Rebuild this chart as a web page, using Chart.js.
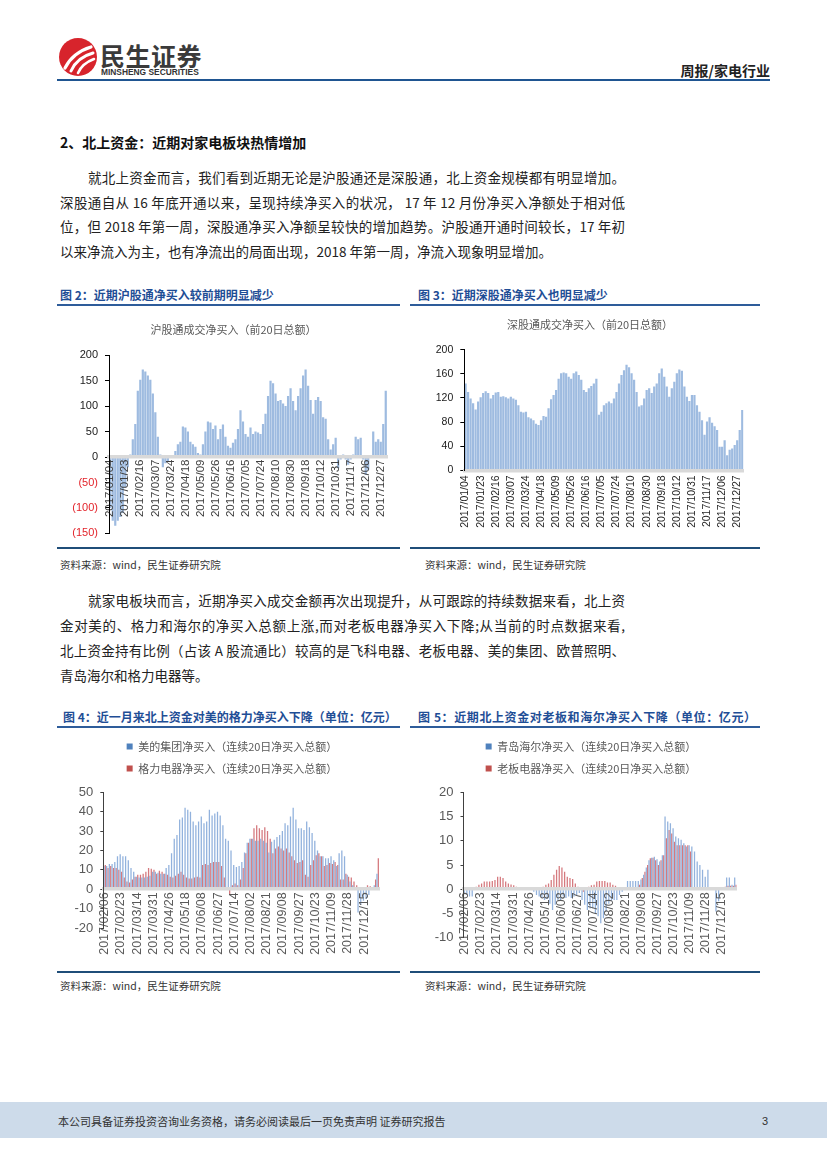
<!DOCTYPE html>
<html><head><meta charset="utf-8">
<script src="https://cdn.jsdelivr.net/npm/chart.js@4"></script>
<style>
body{margin:0;width:827px;height:1169px;position:relative;background:#fff;font-family:"Noto Sans CJK SC",sans-serif;overflow:hidden;color:#222}
.a{position:absolute;white-space:nowrap}
.ln{position:absolute;font-size:13.5px;height:20px;line-height:20px;color:#222;text-align:justify;text-align-last:justify;overflow:visible}
.nl{text-align:left;text-align-last:left;white-space:nowrap}
.ft{position:absolute;font-size:12px;font-weight:700;color:#1f4e96;height:16px;line-height:16px;white-space:nowrap}
.bar{position:absolute;background:#2e5c9a}
.src{position:absolute;font-size:10.5px;color:#333;height:14px;line-height:14px;white-space:nowrap}
.cv{position:absolute}
</style>
</head><body>

<!-- header -->
<svg class="a" style="left:58px;top:37px" width="40" height="40" viewBox="0 0 40 40">
  <circle cx="20" cy="20" r="19" fill="#d7242c"/>
  <path d="M7 31 C12 21 20 14 33 10" stroke="#fff" stroke-width="3.2" fill="none" stroke-linecap="round"/>
  <path d="M13 34 C17 25 24 19 35 16" stroke="#fff" stroke-width="3" fill="none" stroke-linecap="round"/>
  <path d="M20 36 C23 29 28 25 36 22" stroke="#fff" stroke-width="2.6" fill="none" stroke-linecap="round"/>
</svg>
<div class="a" style="left:100px;top:40px;font-size:25px;font-weight:700;color:#3a3a3a;line-height:30px;letter-spacing:0.5px">民生证券</div>
<div class="a" style="left:101px;top:67px;font-family:'Liberation Sans',sans-serif;font-size:8.4px;font-weight:700;color:#333;line-height:10px">MINSHENG SECURITIES</div>
<div class="a" style="right:57px;top:61px;font-size:14px;font-weight:700;color:#222;line-height:18px">周报/家电行业</div>
<div class="bar" style="left:57px;top:78.5px;width:713px;height:2.5px;background:#1f5591"></div>

<!-- section -->
<div class="a" style="left:60px;top:132px;font-size:14px;font-weight:700;color:#111;line-height:20px">2、北上资金：近期对家电板块热情增加</div>
<div class="ln" style="left:88px;top:167px;width:537px">就北上资金而言，我们看到近期无论是沪股通还是深股通，北上资金规模都有明显增加。</div>
<div class="ln" style="left:60px;top:191.5px;width:565px">深股通自从 16 年底开通以来，呈现持续净买入的状况， 17 年 12 月份净买入净额处于相对低</div>
<div class="ln" style="left:60px;top:216px;width:565px">位，但 2018 年第一周，深股通净买入净额呈较快的增加趋势。沪股通开通时间较长，17 年初</div>
<div class="ln nl" style="left:60px;top:241px">以来净流入为主，也有净流出的局面出现，2018 年第一周，净流入现象明显增加。</div>

<!-- figure 2/3 titles -->
<div class="ft" style="left:60px;top:287px">图 2：近期沪股通净买入较前期明显减少</div>
<div class="bar" style="left:57px;top:304px;width:343px;height:2px"></div>
<div class="ft" style="left:418px;top:287px">图 3：近期深股通净买入也明显减少</div>
<div class="bar" style="left:410px;top:304px;width:350px;height:2px"></div>

<div class="cv" style="left:57px;top:312px;width:353px;height:235px"><canvas id="c2"></canvas></div>
<div class="cv" style="left:410px;top:312px;width:360px;height:233px"><canvas id="c3"></canvas></div>

<div class="bar" style="left:57px;top:547px;width:343px;height:1.5px;background:#1f4e79"></div>
<div class="bar" style="left:410px;top:547px;width:350px;height:1.5px;background:#1f4e79"></div>
<div class="src" style="left:60px;top:558px">资料来源：wind，民生证券研究院</div>
<div class="src" style="left:425px;top:558px">资料来源：wind，民生证券研究院</div>

<!-- paragraph 2 -->
<div class="ln" style="left:88px;top:590px;width:537px">就家电板块而言，近期净买入成交金额再次出现提升，从可跟踪的持续数据来看，北上资</div>
<div class="ln" style="left:60px;top:615px;width:565px">金对美的、格力和海尔的净买入总额上涨,而对老板电器净买入下降;从当前的时点数据来看,</div>
<div class="ln" style="left:60px;top:640px;width:565px">北上资金持有比例（占该 A 股流通比）较高的是飞科电器、老板电器、美的集团、欧普照明、</div>
<div class="ln nl" style="left:60px;top:665px">青岛海尔和格力电器等。</div>

<!-- figure 4/5 titles -->
<div class="ft" style="left:63px;top:709px">图 4：近一月来北上资金对美的格力净买入下降（单位：亿元）</div>
<div class="bar" style="left:57px;top:726px;width:343px;height:2px"></div>
<div class="ft" style="left:418px;top:709px;letter-spacing:0.6px">图 5：近期北上资金对老板和海尔净买入下降（单位：亿元）</div>
<div class="bar" style="left:410px;top:726px;width:350px;height:2px"></div>

<div class="cv" style="left:57px;top:730px;width:350px;height:240px"><canvas id="c4"></canvas></div>
<div class="cv" style="left:410px;top:730px;width:362px;height:240px"><canvas id="c5"></canvas></div>

<div class="bar" style="left:57px;top:971px;width:343px;height:1.5px;background:#1f4e79"></div>
<div class="bar" style="left:410px;top:971px;width:350px;height:1.5px;background:#1f4e79"></div>
<div class="src" style="left:60px;top:979px">资料来源：wind，民生证券研究院</div>
<div class="src" style="left:425px;top:979px">资料来源：wind，民生证券研究院</div>

<!-- footer -->
<div class="a" style="left:0;top:1102px;width:827px;height:36px;background:#cddbea"></div>
<div class="a" style="left:58px;top:1112px;font-size:11px;color:#333;line-height:18px">本公司具备证券投资咨询业务资格，请务必阅读最后一页免责声明 证券研究报告</div>
<div class="a" style="left:762px;top:1112px;font-size:11px;color:#333;line-height:18px;font-family:'Liberation Sans',sans-serif">3</div>

<script>
// ---------- data ----------
const TICKS_CONNECT = ['2017/01/04','2017/01/23','2017/02/16','2017/03/07','2017/03/24','2017/04/18','2017/05/09','2017/05/26','2017/06/16','2017/07/05','2017/07/24','2017/08/10','2017/08/30','2017/09/18','2017/10/12','2017/10/31','2017/11/17','2017/12/06','2017/12/27'];
const TICKS_STOCKS = ['2017/02/06','2017/02/23','2017/03/14','2017/03/31','2017/04/26','2017/05/18','2017/06/08','2017/06/27','2017/07/14','2017/08/02','2017/08/21','2017/09/08','2017/09/27','2017/10/23','2017/11/09','2017/11/28','2017/12/15'];
const BARS_PER_TICK = 6;

const SH_NET = [-100,-125,-135,-125,-118,-110,-60,-20,5,35,65,130,152,172,168,160,152,125,88,40,5,-20,-12,-8,0,0,12,25,30,60,58,50,30,25,20,8,5,25,50,70,68,55,62,35,55,64,40,22,18,28,35,55,92,70,45,40,58,45,50,48,45,65,85,120,150,145,125,110,112,105,100,120,135,110,92,120,135,160,172,140,112,85,112,118,110,78,75,35,15,25,38,-22,-5,5,-5,-15,-5,5,40,35,38,-5,-35,-25,0,50,30,35,30,65,130];

const SZ_NET = [144,130,119,111,101,114,121,128,131,128,119,125,129,130,122,123,121,119,122,119,117,108,97,96,97,88,86,83,77,75,83,90,89,103,118,125,133,152,161,162,161,155,152,161,164,158,150,133,130,136,140,144,152,92,97,108,111,114,111,119,130,144,158,166,175,171,161,150,130,106,108,119,133,136,128,139,144,161,169,155,139,122,136,147,161,167,165,139,122,115,125,125,108,97,83,59,81,88,79,73,67,39,39,50,25,34,36,42,50,67,100];

const MIDEA = [12,12,13,13,14,17,18,17,17,15,11,9,6.5,6,6,6,6.5,7,9,9,8.5,8,8,11,12.5,18.5,26,28,36,37,42,41,40,35,33,35,37.5,34,35,41,38,39,40,38,33,26,25,20,12.5,11.5,12,14,19,24,26,26,25,25,26,25,24,19,24.5,25.5,27,28,30,34,33,37.5,42,36,31.5,31.5,30.5,35,32,29,25,20,17,17,16,16,17,15,12,18.5,20,17,7.5,4,2,0,-12,-8,-6,-5,-3,0,2,8];
const GREE = [12.5,11,12,11,11,10,9,6,4,3.5,5,6.5,7.5,7.5,8,9,11,10.5,10,8,9.5,9,8,7.5,6.5,6,7,8,9,7.5,6,5.5,5.5,6,6.5,6,12.5,13,12.5,13.5,14,14,14,12,6,0.5,-3,2,3,2,5,11,18.5,24,26,31.5,33,31.5,30.5,32,30,26,18.5,21,22,21,20,21,19,17,15,13.5,14,15,7.5,6.5,12.5,15,17.5,18.5,17,12,12.5,13.5,13,14,12.5,5,5,8,6.5,6,4,2,0,0,1,2,1.5,0,5,16];

const HAIER = [-1,-1.2,-1.5,-1.5,0,0,0,0,0,0,0,0,0,0,0,0,0,0,0,0,0,0,0,0,0,0,-0.5,-1.2,-1.5,-1.8,-2.2,-2,-3,-4.3,-3.2,-2.2,-2.2,-1.5,-1.8,-1.5,-1.8,-1.5,-1.2,-0.8,-2.2,-3.2,-4.3,-4,-3.9,-5,-5.6,-7,-6,-4.5,-3,-2.4,-2.2,-2.2,-1.2,-0.5,0,1.7,1.7,1.7,1.7,1.7,2,3,4.5,6,6.5,6.7,6.2,5.7,7,15,14,13.6,12.6,10.9,10.5,10.2,9.5,8.8,9.1,8.8,7.8,5.7,5,4,2.6,4,0.2,0,-4.6,-2.5,0,0,2.4,2.4,0.9,2.4];
const ROBAM = [0,0,0,0,0.5,0.9,1.2,1.6,1.6,1.6,1.7,1.9,2.6,2.6,2.3,1.6,1.2,1,0.8,0.5,0,0,0,0,0,0,0,0,0,0.5,0.9,1.2,1.9,3,4,4.8,4.5,3.6,2.6,2.3,2.1,1.2,0.5,0,-0.5,0,0.5,0.8,0.9,1.6,1.7,1.7,1.7,1.4,1.4,0.9,0.7,0.3,0.2,0,0,0,0,0,0,0.9,2.3,3.6,5,6.4,6.5,6,5,6,7,10.5,12.2,11.5,9.8,9.1,9.1,9.1,9.1,9.1,7.8,0,0,0,0,0,0,0,0,0,0,0,0,0.5,0.7,0.7,0.7,0.9];

// ---------- helpers ----------
const LAT = '"Liberation Sans", "Noto Sans CJK SC", sans-serif';
const CJK = '"Noto Sans CJK SC", sans-serif';
function categories(ticks, n) {
  return Array.from({length: n}, (_, i) => (i % BARS_PER_TICK === 0 && ticks[i / BARS_PER_TICK]) ? ticks[i / BARS_PER_TICK] : '');
}
function xAxis(size, color, pad) {
  return {
    position: {y: 0},
    grid: {display: false, drawTicks: false},
    border: {display: true, color: '#d9d9d9', width: 3.5, z: 1},
    ticks: {autoSkip: false, minRotation: 90, maxRotation: 90, padding: pad, color: color, z: 1,
            font: {family: LAT, size: size}}
  };
}
function yAxis(min, max, step, width, opts) {
  return {
    min: min, max: max,
    afterFit: s => { s.width = width; },
    grid: {display: true, drawOnChartArea: false, drawTicks: true, tickLength: opts.tickLen, color: opts.axisColor},
    border: {display: true, color: opts.axisColor, width: 1, z: 1},
    ticks: {stepSize: step, padding: opts.pad, color: opts.color, font: {family: LAT, size: opts.size},
            callback: opts.cb || (v => String(v))}
  };
}
// empty right-hand spacer axis that reserves room right of the plot
function spacer(width) {
  return {type: 'linear', position: 'right', display: true,
          grid: {display: false, drawTicks: false}, border: {display: false}, ticks: {display: false},
          afterFit: s => { s.width = width; }};
}
const base = {responsive: true, maintainAspectRatio: false, animation: false, events: []};

// ---------- chart 2 : 沪股通 ----------
new Chart(document.getElementById('c2'), {
  type: 'bar',
  data: {labels: categories(TICKS_CONNECT, SH_NET.length),
         datasets: [{label: '沪股通成交净买入（前20日总额）', data: SH_NET, backgroundColor: '#9ebbe0', barPercentage: 0.88, categoryPercentage: 1}]},
  options: Object.assign({}, base, {
    layout: {padding: {left: 0, right: 0, top: 0, bottom: 8}},
    plugins: {legend: {display: false}, tooltip: {enabled: false},
      title: {display: true, text: '沪股通成交净买入（前20日总额）', color: '#595959',
              font: {family: CJK, size: 11, weight: 'normal', lineHeight: 1.2}, padding: {top: 11.4, bottom: 18.6}}},
    scales: {
      x: xAxis(11.5, '#404040', 2.5),
      y: yAxis(-150, 200, 50, 52, {tickLen: 4, axisColor: '#000', pad: 7, size: 11,
          color: c => (c.tick && c.tick.value < 0) ? '#e3242b' : '#1a1a1a',
          cb: v => v < 0 ? '(' + (-v) + ')' : String(v)}),
      yr: spacer(23)
    }
  })
});

// ---------- chart 3 : 深股通 ----------
new Chart(document.getElementById('c3'), {
  type: 'bar',
  data: {labels: categories(TICKS_CONNECT, SZ_NET.length),
         datasets: [{label: '深股通成交净买入（前20日总额）', data: SZ_NET, backgroundColor: '#9ebbe0', barPercentage: 0.88, categoryPercentage: 1}]},
  options: Object.assign({}, base, {
    layout: {padding: {left: 0, right: 0, top: 0, bottom: 74.7}},
    plugins: {legend: {display: false}, tooltip: {enabled: false},
      title: {display: true, text: '深股通成交净买入（前20日总额）', color: '#595959',
              font: {family: CJK, size: 11, weight: 'normal', lineHeight: 1.2}, padding: {top: 6.4, bottom: 18.1}}},
    scales: {
      x: xAxis(10.5, '#262626', 5),
      y: yAxis(0, 200, 20, 54.3, {tickLen: 4, axisColor: '#000', pad: 7, size: 10.5, color: '#1a1a1a'}),
      yr: spacer(26.5)
    }
  })
});

// ---------- charts 4 & 5 : 个股 ----------
function stockChart(id, labelsA, dataA, labelsB, dataB, min, max, step, yWidth, rightW, bottomPad) {
  return new Chart(document.getElementById(id), {
    type: 'bar',
    data: {labels: categories(TICKS_STOCKS, dataA.length),
           datasets: [
             {label: labelsA, data: dataA, backgroundColor: '#92b2dd', barPercentage: 0.95, categoryPercentage: 1},
             {label: labelsB, data: dataB, backgroundColor: '#d5797e', barPercentage: 0.95, categoryPercentage: 1}
           ]},
    options: Object.assign({}, base, {
      layout: {padding: {left: 0, right: 0, top: 0, bottom: bottomPad}},
      plugins: {
        tooltip: {enabled: false},
        legend: {display: true, position: 'top', weight: 3000,
                 labels: {boxWidth: 6, boxHeight: 6, padding: 11, color: '#595959', font: {family: CJK, size: 11},
                          generateLabels: ch => ch.data.datasets.map((d, i) => ({
                            text: d.label, fillStyle: i === 0 ? '#4f81bd' : '#c0504d', strokeStyle: 'rgba(0,0,0,0)',
                            lineWidth: 0, hidden: false, datasetIndex: i, fontColor: '#595959'}))}},
        title: {display: true, text: '', padding: 0, font: {size: 8.3, lineHeight: 1}}
      },
      scales: {
        x: xAxis(12.5, '#595959', 3),
        y: yAxis(min, max, step, yWidth, {tickLen: 3, axisColor: '#404040', pad: 7, size: 13, color: '#595959'}),
        yr: spacer(rightW)
      }
    })
  });
}
stockChart('c4', '美的集团净买入（连续20日净买入总额）', MIDEA, '格力电器净买入（连续20日净买入总额）', GREE,
           -20, 50, 10, 46.3, 28, 42);
stockChart('c5', '青岛海尔净买入（连续20日净买入总额）', HAIER, '老板电器净买入（连续20日净买入总额）', ROBAM,
           -10, 20, 5, 53.5, 35.3, 32.3);
</script>
</body></html>
